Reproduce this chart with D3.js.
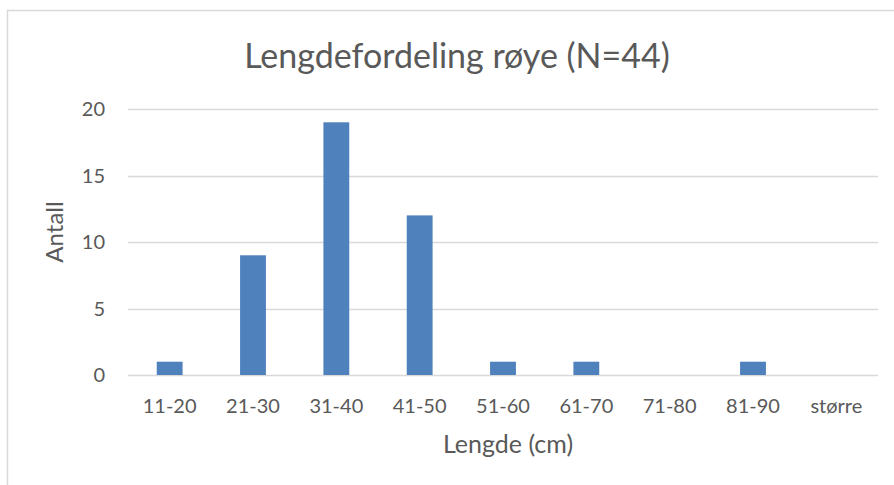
<!DOCTYPE html>
<meta charset="utf-8">
<style>
body { margin: 0; background: #fff; }
svg text { font-family: Lato, "Open Sans", sans-serif; fill: #595959; }
.grid line { stroke: #d9d9d9; stroke-width: 1.3px; }
.bar { fill: #4f81bd; }
</style>
<svg width="894" height="485"></svg>
<script src="https://d3js.org/d3.v7.min.js"></script>
<script>

var categories = ["11-20", "21-30", "31-40", "41-50", "51-60", "61-70", "71-80", "81-90", "større"];
var counts = [1, 9, 19, 12, 1, 1, 0, 1, 0];
var yTicks = [0, 5, 10, 15, 20];

var svg = d3.select("svg"),
    margin = {top: 109, right: 16, bottom: 110, left: 128},
    width = 894 - margin.left - margin.right,
    height = 485 - margin.top - margin.bottom;

// chart border
svg.append("rect")
    .attr("x", 7.5).attr("y", 10.5)
    .attr("width", 900).attr("height", 500)
    .attr("fill", "none").attr("stroke", "#d9d9d9").attr("stroke-width", 1.5);

var g = svg.append("g").attr("transform", "translate(" + margin.left + "," + margin.top + ")");

var x = d3.scaleBand().domain(categories).range([0, width]).paddingInner(0.69).paddingOuter(0.345),
    y = d3.scaleLinear().domain([0, 20]).range([height, 0]);

g.append("g")
    .attr("class", "grid")
    .selectAll("line")
    .data(yTicks)
    .enter().append("line")
      .attr("x1", 0).attr("x2", width)
      .attr("y1", function(d) { return Math.round(y(d)) + 0.5; })
      .attr("y2", function(d) { return Math.round(y(d)) + 0.5; });

g.selectAll(".bar")
    .data(counts)
    .enter().append("rect")
      .attr("class", "bar")
      .attr("x", function(d, i) { return x(categories[i]); })
      .attr("width", x.bandwidth())
      .attr("y", function(d) { return y(d); })
      .attr("height", function(d) { return height - y(d); });

// y tick labels
g.selectAll(".ylab")
    .data(yTicks)
    .enter().append("text")
      .attr("x", -23)
      .attr("y", function(d) { return y(d); })
      .attr("dy", "0.36em")
      .attr("text-anchor", "end")
      .style("font-size", "20px")
      .text(function(d) { return d; });

// x tick labels
g.selectAll(".xlab")
    .data(categories)
    .enter().append("text")
      .attr("x", function(d) { return x(d) + x.bandwidth() / 2; })
      .attr("y", 413)
      .attr("transform", "translate(0," + (-margin.top) + ")")
      .attr("text-anchor", "middle")
      .style("font-size", "20px")
      .text(function(d) { return d; });

svg.append("text")
    .attr("x", 457).attr("y", 68)
    .attr("text-anchor", "middle")
    .style("font-size", "34px")
    .text("Lengdefordeling røye (N=44)");

svg.append("text")
    .attr("x", 508).attr("y", 453)
    .attr("text-anchor", "middle")
    .style("font-size", "25px")
    .text("Lengde (cm)");

svg.append("text")
    .attr("transform", "translate(63,232) rotate(-90)")
    .attr("text-anchor", "middle")
    .style("font-size", "24px")
    .text("Antall");

</script>
